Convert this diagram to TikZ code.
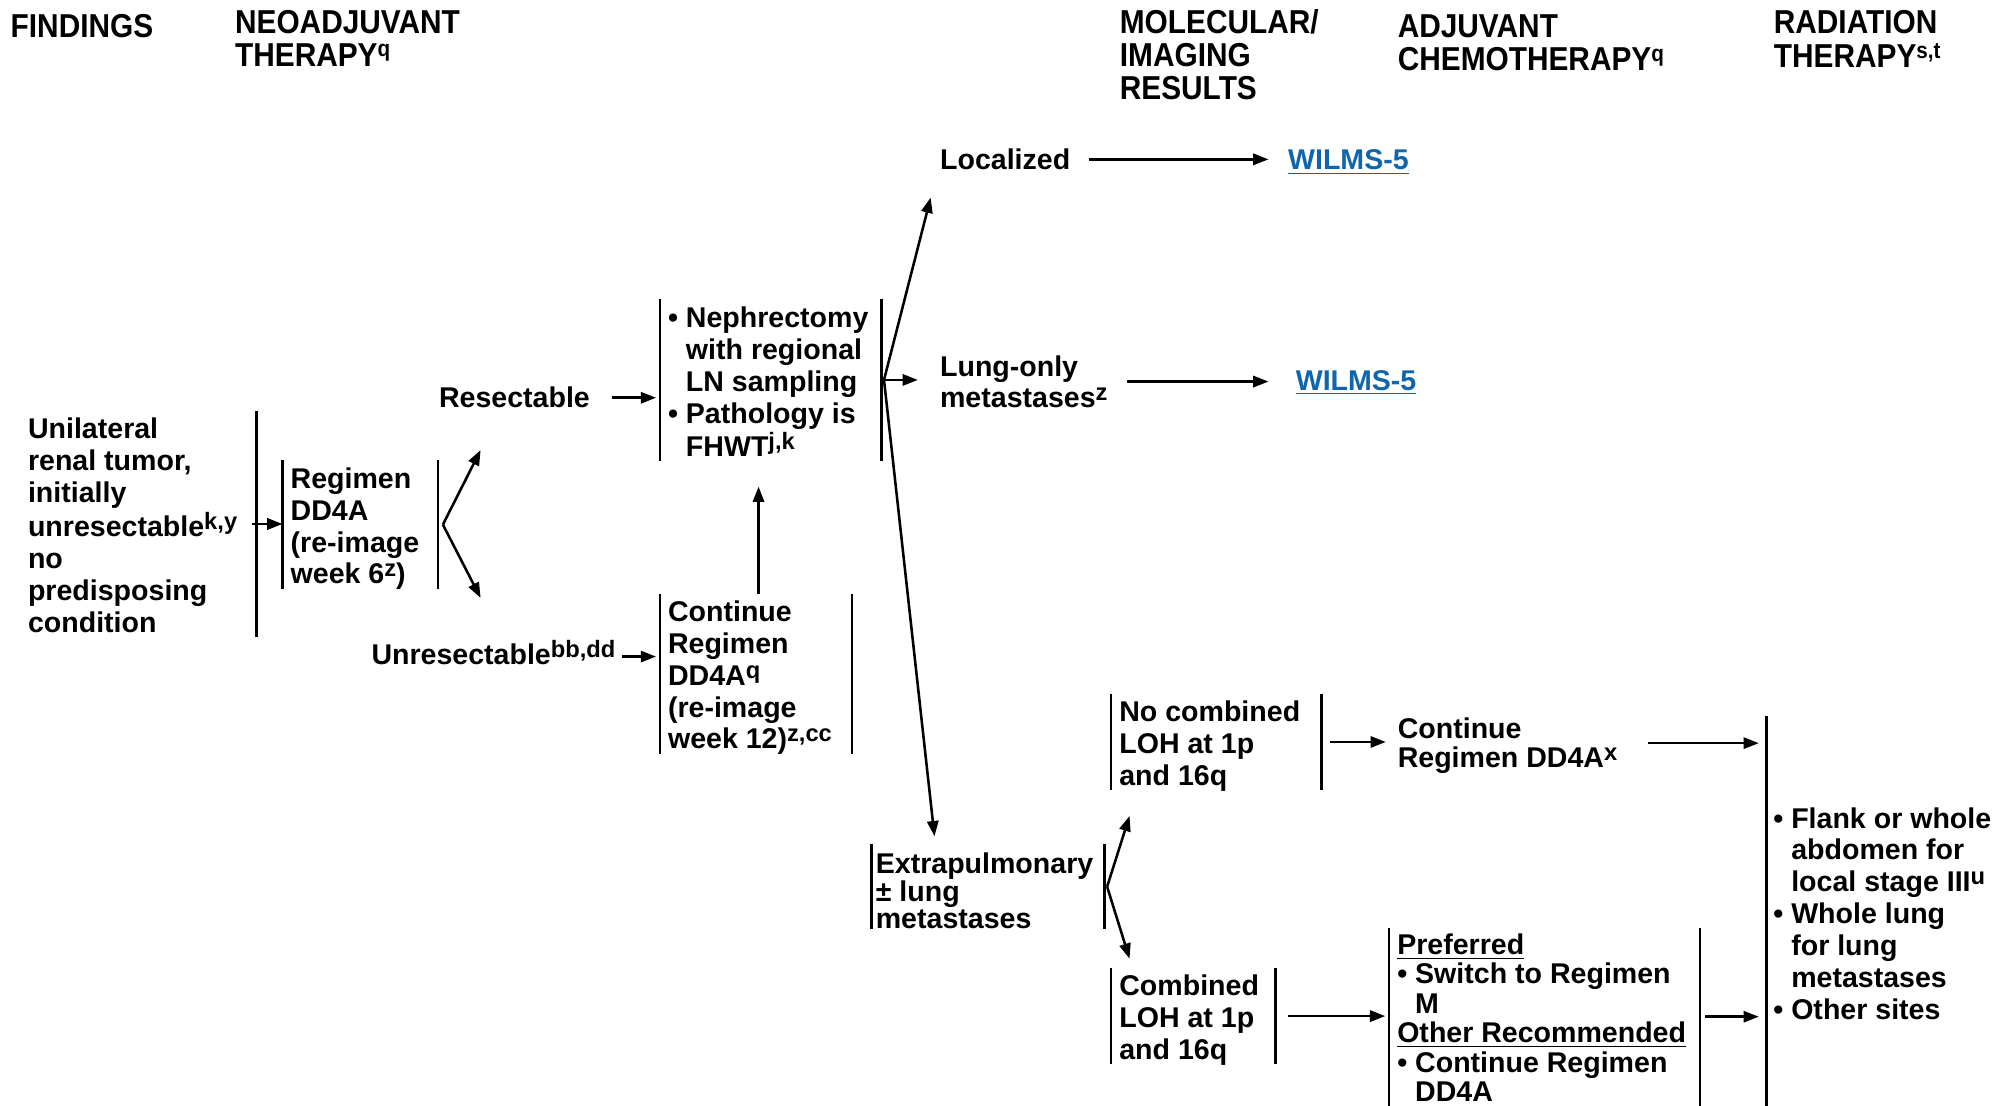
\documentclass[tikz,border=0pt]{standalone}
\usepackage{fontspec}
\setmainfont{Liberation Sans}
\newfontfamily\hdrfamily[FakeStretch=0.9]{Liberation Sans}
\usetikzlibrary{arrows.meta,calc}

\definecolor{linkblue}{RGB}{16,101,171}

% left-aligned block of fixed width, lines broken by \\, set slightly low
\newcommand\bx[3][2pt]{\makebox[#2][l]{\raisebox{-#1}[\height][\depth]{\begin{tabular}{@{}l@{}}#3\end{tabular}}}}
\newcommand\tl[1]{\begin{tabular}[t]{@{}l@{}}#1\end{tabular}}
\newcommand\ind{\hphantom{\textbullet\ }}
% footnote keys: large and only slightly raised
\newcommand\sups[1]{\raisebox{2.8pt}{\fontsize{9.3pt}{10pt}\selectfont #1}}
\newcommand\hsups[1]{\raisebox{3.6pt}{\fontsize{9pt}{10pt}\selectfont #1}}

\begin{document}
\begin{tikzpicture}[x=0.5pt,y=-0.5pt,
  bodyfont/.style={font=\bfseries\fontsize{11.2pt}{12.5pt}\selectfont},
  lbl/.style={bodyfont,inner sep=0pt,anchor=base west},
  hdr/.style={inner sep=0pt,anchor=base west,font=\hdrfamily\bfseries\fontsize{13pt}{12.5pt}\selectfont},
  box/.style={bodyfont,inner xsep=3pt,inner ysep=0pt},
  barline/.style={line width=1pt},
  arr/.style={line width=1pt,-{Triangle[length=6pt,width=4.4pt]}},
  link/.style={text=linkblue}]

\fill[white] (0,0) rectangle (1568,867);
\useasboundingbox (0,0) rectangle (1568,867);

% column headings
\node[hdr] (hFind) at (8,29.5) {FINDINGS};
\node[hdr] (hNeo) at (184,26.5) {\tl{NEOADJUVANT\\THERAPY\hsups{q}}};
\node[hdr] (hMol) at (878,26.5) {\tl{MOLECULAR/\\IMAGING\\RESULTS}};
\node[hdr] (hAdj) at (1096,29.5) {\tl{ADJUVANT\\CHEMOTHERAPY\hsups{q}}};
\node[hdr] (hRad) at (1391,26.5) {\tl{RADIATION\\THERAPY\hsups{s,t}}};

% bracketed boxes
\node[box,minimum height=86pt] (find) at (108.5,411)
  {\bx{86.5pt}{Unilateral\\renal tumor,\\initially\\unresectable\sups{k,y}\\no\\predisposing\\condition}};
\draw[barline] (find.north east) -- (find.south east);

\node[box,minimum height=48.5pt] (reg) at (282.5,411.5)
  {\bx{54.5pt}{Regimen\\DD4A\\(re-image\\week 6\sups{z})}};
\draw[barline] (reg.north west) -- (reg.south west) (reg.north east) -- (reg.south east);

\node[box,minimum height=60pt] (neph) at (604.5,298)
  {\bx[2.3pt]{80.5pt}{\textbullet\ Nephrectomy\\\ind with regional\\\ind LN sampling\\\textbullet\ Pathology is\\\ind FHWT\sups{j,k}}};
\draw[barline] (neph.north west) -- (neph.south west) (neph.north east) -- (neph.south east);

\node[box,minimum height=61.5pt] (cont) at (593,528.5)
  {\bx{69pt}{Continue\\Regimen\\DD4A\sups{q}\\(re-image\\week 12)\sups{z,cc}}};
\draw[barline] (cont.north west) -- (cont.south west) (cont.north east) -- (cont.south east);

\node[box,inner xsep=1.5pt,minimum height=32.5pt,font=\bfseries\fontsize{11.2pt}{10.3pt}\selectfont] (extra) at (775,695.5)
  {\bx[3pt]{88pt}{Extrapulmonary\\± lung\\metastases}};
\draw[barline] (extra.north west) -- (extra.south west) (extra.north east) -- (extra.south east);

\node[box,minimum height=35pt] (nocomb) at (954,582)
  {\bx{76pt}{No combined\\LOH at 1p\\and 16q}};
\draw[barline] (nocomb.north west) -- (nocomb.south west) (nocomb.north east) -- (nocomb.south east);

\node[box,minimum height=35pt] (comb) at (936,797)
  {\bx{58pt}{Combined\\LOH at 1p\\and 16q}};
\draw[barline] (comb.north west) -- (comb.south west) (comb.north east) -- (comb.south east);

\node[box,minimum height=69.5pt,font=\bfseries\fontsize{11.2pt}{11.5pt}\selectfont] (pref) at (1211.5,797.5)
  {\bx{115.5pt}{\underline{Preferred}\\\textbullet\ Switch to Regimen\\\ind M\\\underline{Other Recommended}\\\textbullet\ Continue Regimen\\\ind DD4A}};
\draw[barline] (pref.north west) -- (pref.south west) (pref.north east) -- (pref.south east);

\node[box,inner xsep=2.5pt,minimum height=152.5pt] (rad) at (1479,714.5)
  {\bx[2.5pt]{88pt}{\textbullet\ Flank or whole\\\ind abdomen for\\\ind local stage III\sups{u}\\\textbullet\ Whole lung\\\ind for lung\\\ind metastases\\\textbullet\ Other sites}};
\draw[barline] (rad.north west) -- (rad.south west);

% plain labels
\node[lbl] (res) at (344,320) {Resectable};
\node[lbl] (unres) at (291,521) {Unresectable\sups{bb,dd}};
\node[lbl] (loc) at (737,133) {Localized};
\node[lbl] (lung) at (737,295) {\tl{Lung-only\\metastases\sups{z}}};
\node[lbl,link] (w1) at (1010,133) {\underline{WILMS-5}};
\node[lbl,link] (w2) at (1016,306) {\underline{WILMS-5}};
\node[lbl,font=\bfseries\fontsize{11.2pt}{11.5pt}\selectfont] (contx) at (1096,579) {\tl{Continue\\Regimen DD4A\sups{x}}};

% branch points and arrow targets
\coordinate (fk1) at ([xshift=2pt]reg.east);
\coordinate (resin) at (377,353);
\coordinate (unresin) at (377,469);
\coordinate (fk2) at ([xshift=1pt]neph.east);
\coordinate (locin) at (730,155);
\coordinate (extin) at (733,656);
\coordinate (fk3) at ([xshift=1pt]extra.east);
\coordinate (ncin) at (886,640);
\coordinate (cbin) at (886,752);

% connectors
\draw[arr,shorten <=-2pt] (find.east) -- (find.east -| reg.west);
\draw[arr] (fk1) -- (resin);
\draw[arr] (fk1) -- (unresin);
\draw[arr,shorten <=8.5pt,shorten >=1.5pt] (res.east) -- (res.east -| neph.west);
\draw[arr,shorten <=2.5pt,shorten >=1.5pt] ([yshift=3pt]unres.base east) -- ([yshift=3pt]unres.base east -| cont.west);
\draw[arr,shorten >=10pt] ([xshift=1pt]cont.north) -- ([xshift=1pt]cont.north |- neph.south);
\draw[arr] (fk2) -- (locin);
\draw[arr,shorten >=8.5pt] (fk2) -- (lung.west |- fk2);
\draw[arr] (fk2) -- (extin);
\draw[arr,shorten <=7pt,shorten >=7.5pt] (loc.east) -- (loc.east -| w1.west);
\draw[arr,shorten <=7.5pt,shorten >=10.5pt] ([yshift=0.5pt]lung.east |- w2.west) -- ([yshift=0.5pt]w2.west);
\draw[arr] (fk3) -- (ncin);
\draw[arr] (fk3) -- (cbin);
\draw[arr,shorten <=3.5pt,shorten >=4.5pt] (nocomb.east) -- (nocomb.east -| contx.west);
\draw[arr,shorten <=12pt,shorten >=3pt] ([yshift=1.5pt]contx.east) -- ([yshift=1.5pt]contx.east -| rad.west);
\draw[arr,shorten <=5pt,shorten >=1.5pt] (comb.east) -- (comb.east -| pref.west);
\draw[arr,shorten <=2pt,shorten >=3pt] (pref.east) -- (pref.east -| rad.west);

\end{tikzpicture}
\end{document}
